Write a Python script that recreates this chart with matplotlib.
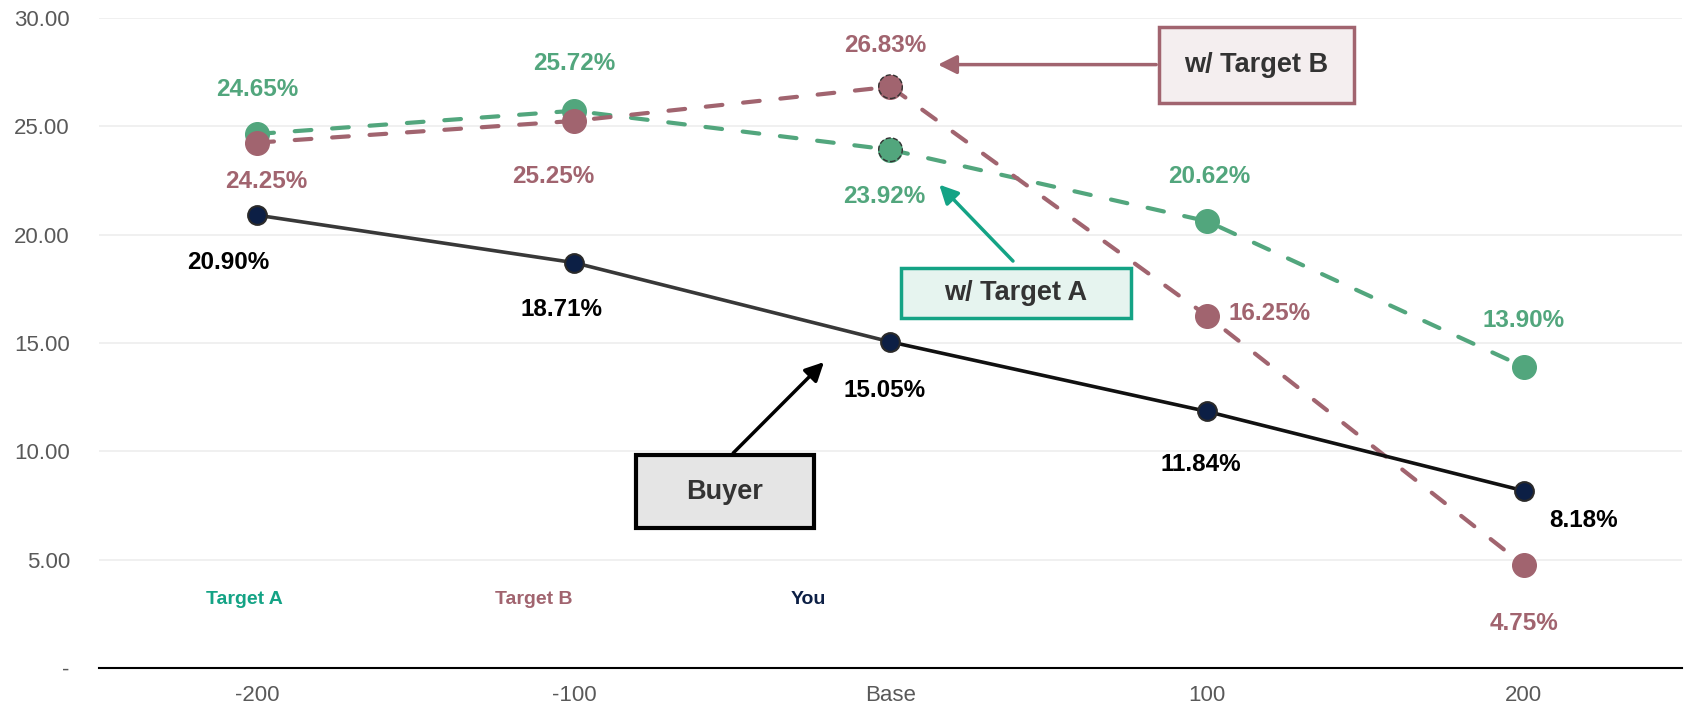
import matplotlib
matplotlib.use("Agg")
import matplotlib.pyplot as plt
from matplotlib.patches import Rectangle

plt.rcParams['font.family'] = ['Liberation Sans', 'DejaVu Sans']

categories = ['-200', '-100', 'Base', '100', '200']
buyer = [20.90, 18.71, 15.05, 11.84, 8.18]
target_a = [24.65, 25.72, 23.92, 20.62, 13.90]
target_b = [24.25, 25.25, 26.83, 16.25, 4.75]

# label offsets in pixels (dx, dy)
off_a = [(0, 44), (0, 47), (-6, -47), (2, 45), (0, 46)]
off_b = [(9, -39), (-21, -56), (-5, 41), (62, 2), (0, -58)]
off_buyer = [(-29, -47), (-12, -47), (-6, -49), (-6, -53), (60, -30)]

green = '#52a67d'
teal = '#14a385'
mauve = '#a1646f'
navy = '#0c1f45'

fig = plt.figure(figsize=(16.84, 7.07), dpi=100)
ax = fig.add_axes([0.0588, 0.0552, 0.9400, 0.9193])
x = list(range(len(categories)))

# Target A
ax.plot(x, target_a, color=green, lw=3, dashes=(4.0, 5.0), dash_capstyle='round',
        marker='o', ms=17, mfc=green, mec=green, zorder=3)
ax.scatter([x[2]], [target_a[2]], s=289, facecolor=green, edgecolor='#333333',
           linestyle='--', linewidth=1, zorder=4)
# Target B
ax.plot(x, target_b, color=mauve, lw=3, dashes=(4.0, 5.0), dash_capstyle='round',
        marker='o', ms=17, mfc=mauve, mec=mauve, zorder=5)
ax.scatter([x[2]], [target_b[2]], s=289, facecolor=mauve, edgecolor='#333333',
           linestyle='--', linewidth=1, zorder=6)
# Buyer
ax.plot(x[:3], buyer[:3], color='#383838', lw=2.6, zorder=7)
ax.plot(x[2:], buyer[2:], color='#111111', lw=2.6, zorder=7)
ax.plot(x, buyer, ls='none', marker='o', ms=13.5, mfc=navy, mec='#2a2a2a', mew=1.5, zorder=8)

for i in x:
    ax.annotate(f'{target_a[i]:.2f}%', (i, target_a[i]), xytext=off_a[i],
                textcoords='offset pixels', ha='center', va='center',
                color=green, fontsize=17.5, fontweight='bold', zorder=10)
    ax.annotate(f'{target_b[i]:.2f}%', (i, target_b[i]), xytext=off_b[i],
                textcoords='offset pixels', ha='center', va='center',
                color=mauve, fontsize=17.5, fontweight='bold', zorder=10)
    ax.annotate(f'{buyer[i]:.2f}%', (i, buyer[i]), xytext=off_buyer[i],
                textcoords='offset pixels', ha='center', va='center',
                color='black', fontsize=17.5, fontweight='bold', zorder=10)

# callout boxes
ax.add_patch(Rectangle((2.848, 26.07), 0.615, 3.51, facecolor='#f4eeef',
                       edgecolor=mauve, lw=2.5, zorder=11))
ax.text(3.156, 27.83, 'w/ Target B', ha='center', va='center', fontsize=19.5,
        fontweight='bold', color='#333333', zorder=12)
ax.annotate('', xy=(2.141, 27.85), xytext=(2.848, 27.85),
            arrowprops=dict(arrowstyle='-|>', color=mauve, lw=2.5, mutation_scale=28), zorder=11)

ax.add_patch(Rectangle((2.033, 16.15), 0.726, 2.29, facecolor='#e6f4ef',
                       edgecolor=teal, lw=2.5, zorder=11))
ax.text(2.396, 17.3, 'w/ Target A', ha='center', va='center', fontsize=19.5,
        fontweight='bold', color='#333333', zorder=12)
ax.annotate('', xy=(2.148, 22.40), xytext=(2.393, 18.69),
            arrowprops=dict(arrowstyle='-|>', color=teal, lw=2.5, mutation_scale=28), zorder=11)

ax.add_patch(Rectangle((1.196, 6.46), 0.562, 3.37, facecolor='#e5e5e5',
                       edgecolor='black', lw=3, zorder=11))
ax.text(1.477, 8.14, 'Buyer', ha='center', va='center', fontsize=19.5,
        fontweight='bold', color='#333333', zorder=12)
ax.annotate('', xy=(1.796, 14.21), xytext=(1.497, 9.83),
            arrowprops=dict(arrowstyle='-|>', color='black', lw=2.5, mutation_scale=28), zorder=11)

# small series names
ax.text(-0.04, 3.18, 'Target A', ha='center', va='center', fontsize=14, fontweight='bold', color=teal)
ax.text(0.873, 3.18, 'Target B', ha='center', va='center', fontsize=14, fontweight='bold', color=mauve)
ax.text(1.74, 3.18, 'You', ha='center', va='center', fontsize=14, fontweight='bold', color=navy)

ax.set_xlim(-0.5, 4.5)
ax.set_ylim(0, 30)
ax.set_xticks(x)
ax.set_xticklabels(categories)
yt = [0, 5, 10, 15, 20, 25, 30]
ax.set_yticks(yt)
ax.set_yticklabels(['-'] + [f'{v:.2f}' for v in yt[1:]])
ax.tick_params(axis='both', length=0, labelsize=16, colors='#595959', pad=12)
ax.tick_params(axis='y', pad=21)
ax.grid(axis='y', color='#ededed', lw=1.2)
ax.set_axisbelow(True)
for s in ['top', 'right', 'left']:
    ax.spines[s].set_visible(False)
ax.spines['bottom'].set_color('black')
ax.spines['bottom'].set_linewidth(1.5)

fig.savefig('out.png', dpi=100)
